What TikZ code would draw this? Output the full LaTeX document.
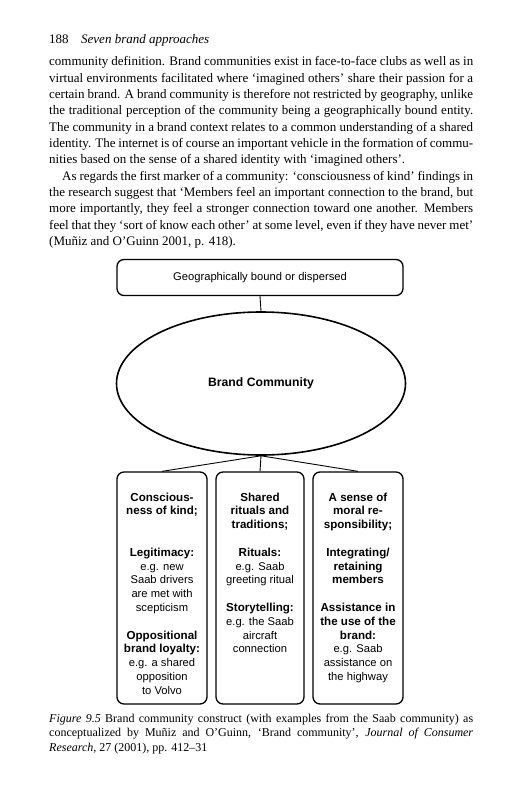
\documentclass[tikz,border=0pt]{standalone}
\usepackage{fontspec}
\setmainfont{Liberation Serif}
\newfontfamily\arialf{Liberation Sans}
\usetikzlibrary{shapes.geometric}
\tikzset{
  bodyline/.style={anchor=base west, inner sep=0pt, font=\fontsize{13}{16}\selectfont},
  capline/.style={anchor=base west, inner sep=0pt, font=\fontsize{12}{14}\selectfont},
  rbox/.style={draw, line width=1.3pt, rounded corners=7pt, inner sep=0pt},
  conn/.style={line width=0.9pt},
}
\newcommand\jl[2][424pt]{\makebox[#1][s]{#2}}
\newcommand\bx[1]{{\bfseries\fontsize{11.6}{13.8}\selectfont #1}}
\newcommand\boxtext[2][90pt]{\parbox[c][232pt][t]{#1}{\centering\arialf\fontsize{11.2}{13.8}\selectfont\vspace*{19pt}#2}}
\begin{document}
\begin{tikzpicture}[x=1pt,y=-1pt]
\fill[white] (0,0) rectangle (519,800);
\path[use as bounding box] (0,0) rectangle (519,800);
% header
\node[bodyline] (pg) at (49,44) {188};
\node[bodyline] (ht) at (81,44) {\itshape Seven brand approaches};
% body
\node[bodyline] (p1) at (49,66) {\jl{community definition. Brand communities exist in face-to-face clubs as well as in}};
\node[bodyline] (p2) at (49,82.3) {\jl{virtual environments facilitated where ‘imagined others’ share their passion for a}};
\node[bodyline] (p3) at (49,98.6) {\jl{certain brand. A brand community is therefore not restricted by geography, unlike}};
\node[bodyline] (p4) at (49,114.9) {\jl{the traditional perception of the community being a geographically bound entity.}};
\node[bodyline] (p5) at (49,131.2) {\jl{The community in a brand context relates to a common understanding of a shared}};
\node[bodyline] (p6) at (49,147.5) {\jl{identity. The internet is of course an important vehicle in the formation of commu-}};
\node[bodyline] (p7) at (49,163.8) {nities based on the sense of a shared identity with ‘imagined others’.};
\node[bodyline] (p8) at (62,180.1) {\jl[411pt]{As regards the first marker of a community: ‘consciousness of kind’ findings in}};
\node[bodyline] (p9) at (49,196.4) {\jl{the research suggest that ‘Members feel an important connection to the brand, but}};
\node[bodyline] (p10) at (49,212.7) {\jl{more importantly, they feel a stronger connection toward one another. Members}};
\node[bodyline] (p11) at (49,229) {\jl{feel that they ‘sort of know each other’ at some level, even if they have never met’}};
\node[bodyline] (p12) at (49,245.3) {(Muñiz and O’Guinn 2001, p. 418).};
% diagram
\node[rbox, minimum width=286pt, minimum height=36pt, font=\arialf\fontsize{11.2}{13}\selectfont] (geo) at (260,277.5) {Geographically bound or dispersed};
\node[draw, ellipse, line width=1.6pt, minimum width=289pt, minimum height=143pt, inner sep=0pt, font=\arialf\bfseries\fontsize{12.2}{14}\selectfont] (bc) at (261,383.5) {Brand Community};
\draw[conn] (geo.south) -- (bc.north);
\node[rbox] (k1) at (162,588) {\boxtext{\rule{0pt}{10pt}\bx{Conscious-}\\\bx{ness of kind;}\\[27.6pt]
  \bx{Legitimacy:}\\e.g. new\\Saab drivers\\are met with\\scepticism\\[13.8pt]
  \bx{Oppositional}\\\bx{brand loyalty:}\\e.g. a shared\\opposition\\to Volvo}};
\node[rbox] (k2) at (260,588) {\boxtext[88pt]{\rule{0pt}{10pt}\bx{Shared}\\\bx{rituals and}\\\bx{traditions;}\\[13.8pt]
  \bx{Rituals:}\\e.g. Saab\\greeting ritual\\[13.8pt]
  \bx{Storytelling:}\\e.g. the Saab\\aircraft\\connection}};
\node[rbox] (k3) at (358,588) {\boxtext{\rule{0pt}{10pt}\bx{A sense of}\\\bx{moral re-}\\\bx{sponsibility;}\\[13.8pt]
  \bx{Integrating/}\\\bx{retaining}\\\bx{members}\\[13.8pt]
  \bx{Assistance in}\\\bx{the use of the}\\\bx{brand:}\\e.g. Saab\\assistance on\\the highway}};
\draw[conn] (bc.south) -- (k1.north);
\draw[conn] (bc.south) -- (k2.north);
\draw[conn] (bc.south) -- (k3.north);
% caption
\node[capline] (c1) at (49,722) {\jl{\textit{Figure 9.5} Brand community construct (with examples from the Saab community) as}};
\node[capline] (c2) at (49,736.5) {\jl{conceptualized by Muñiz and O’Guinn, ‘Brand community’, \textit{Journal of Consumer}}};
\node[capline] (c3) at (49,751) {\textit{Research}, 27 (2001), pp. 412--31};
\end{tikzpicture}
\end{document}
